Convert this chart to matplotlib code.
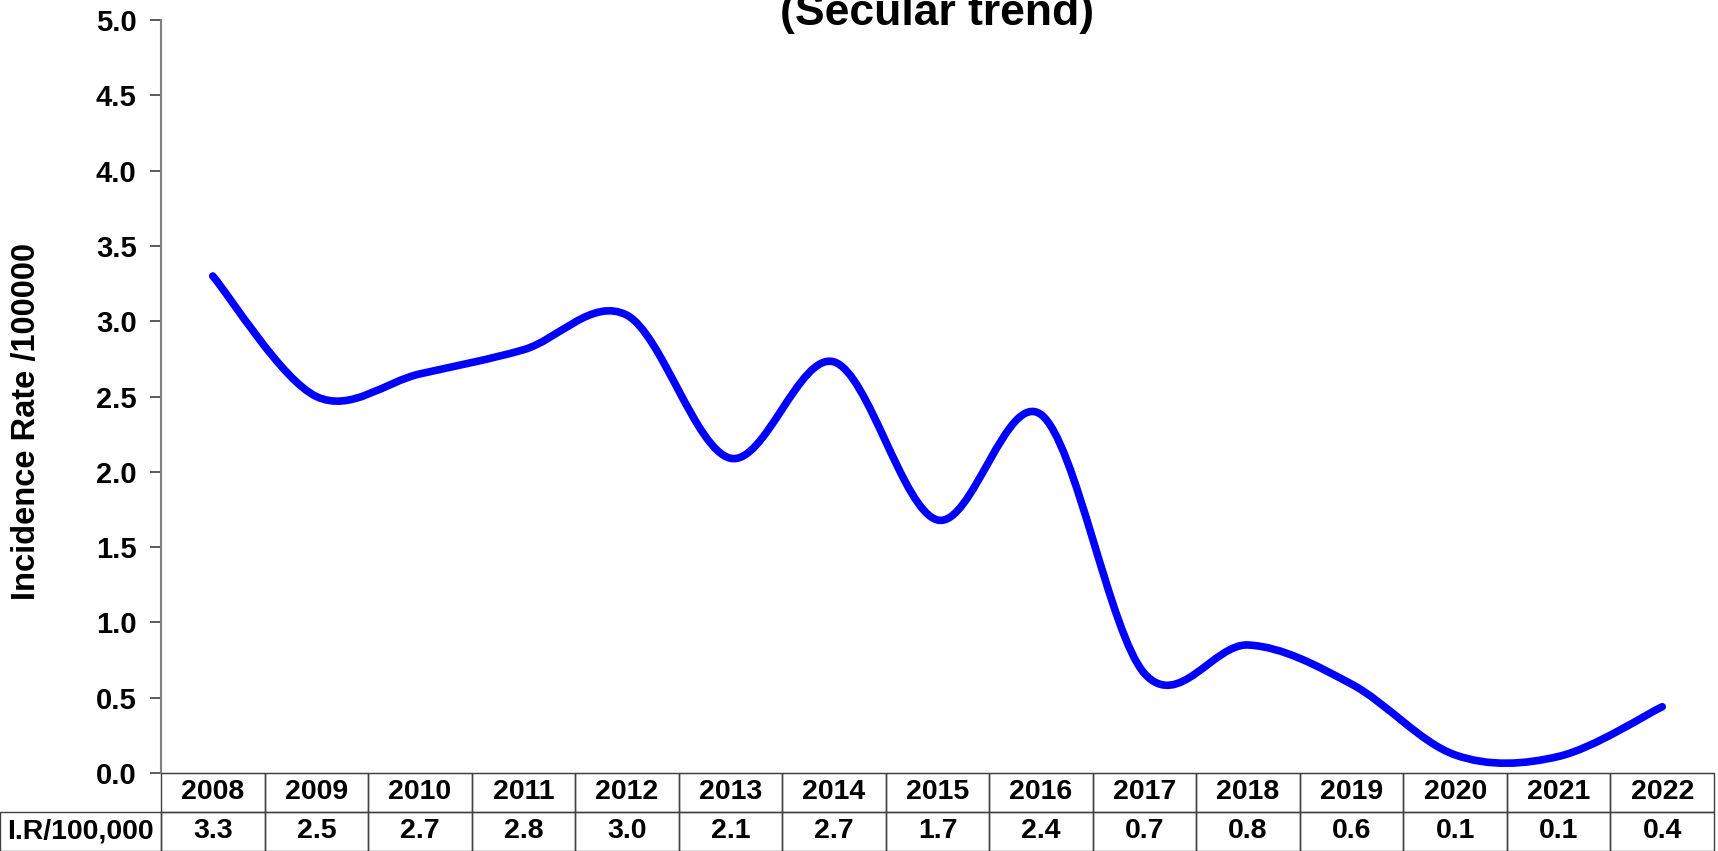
"""Incidence rate per 100,000, secular trend 2008-2022 (smoothed line + data table)."""
import matplotlib
matplotlib.use("Agg")
import matplotlib.pyplot as plt
from matplotlib.path import Path
from matplotlib.patches import PathPatch

plt.rcParams["font.family"] = ["Liberation Sans", "DejaVu Sans"]
plt.rcParams["font.weight"] = "bold"

years = ["2008", "2009", "2010", "2011", "2012", "2013", "2014", "2015",
         "2016", "2017", "2018", "2019", "2020", "2021", "2022"]
rates = [3.30, 2.50, 2.65, 2.81, 3.04, 2.09, 2.73, 1.68,
         2.38, 0.66, 0.85, 0.59, 0.12, 0.11, 0.44]
rate_labels = ["3.3", "2.5", "2.7", "2.8", "3.0", "2.1", "2.7", "1.7",
               "2.4", "0.7", "0.8", "0.6", "0.1", "0.1", "0.4"]
row_label = "I.R/100,000"
title = "(Secular trend)"
ylabel = "Incidence Rate /100000"
yticks = [0.0, 0.5, 1.0, 1.5, 2.0, 2.5, 3.0, 3.5, 4.0, 4.5, 5.0]


def smooth_path(xs, ys):
    """Excel-style smoothed line: cubic Bezier segments (Catmull-Rom tangents)."""
    n = len(xs)
    pts = list(zip(xs, ys))
    verts = [pts[0]]
    codes = [Path.MOVETO]
    for i in range(n - 1):
        p0 = pts[max(i - 1, 0)]
        p1 = pts[i]
        p2 = pts[i + 1]
        p3 = pts[min(i + 2, n - 1)]
        c1 = (p1[0] + (p2[0] - p0[0]) / 6, p1[1] + (p2[1] - p0[1]) / 6)
        c2 = (p2[0] - (p3[0] - p1[0]) / 6, p2[1] - (p3[1] - p1[1]) / 6)
        verts += [c1, c2, p2]
        codes += [Path.CURVE4] * 3
    return Path(verts, codes)


W, H = 1718, 851
fig = plt.figure(figsize=(W / 100, H / 100), dpi=100)
ax = fig.add_axes([161 / W, (H - 773) / H, 1553 / W, 753 / H])

x = list(range(len(years)))
ax.add_patch(PathPatch(smooth_path(x, rates), facecolor="none", edgecolor="#0000FF",
                       lw=5.5, capstyle="round", joinstyle="round"))

ax.set_xlim(-0.5, len(years) - 0.5)
ax.set_ylim(0, 5)
ax.set_yticks(yticks)
ax.set_yticklabels([f"{v:.1f}" for v in yticks], fontsize=21, fontweight="bold")
ax.set_xticks([])
ax.tick_params(axis="y", length=8, width=1.2, color="#404040", pad=9.5)
for s in ("top", "right"):
    ax.spines[s].set_visible(False)
ax.spines["left"].set_color("#808080")
ax.spines["left"].set_linewidth(1.5)
ax.spines["bottom"].set_color("#404040")

# data table under the axis: first column holds the row label
tbl = ax.table(cellText=[[row_label] + rate_labels], colLabels=[""] + years,
               cellLoc="center",
               colWidths=[161] + [103.5] * len(years),
               bbox=[-161 / 1553, -77.5 / 753, 1714 / 1553, 77.5 / 753])
tbl.auto_set_font_size(False)
tbl.set_fontsize(20.5)
for (r, c), cell in tbl.get_celld().items():
    cell.set_edgecolor("#404040")
    cell.set_linewidth(1.0)
    cell.get_text().set_fontweight("bold")
    cell.set_facecolor("none")
tbl[0, 0].visible_edges = ""

fig.text(937 / W, 1 - 25 / H, title, ha="center", va="baseline",
         fontsize=32, fontweight="bold")
fig.text(27 / W, 1 - 421 / H, ylabel, ha="center", va="center", rotation=90,
         fontsize=23.5, fontweight="bold")

fig.savefig("out.png", dpi=100)
